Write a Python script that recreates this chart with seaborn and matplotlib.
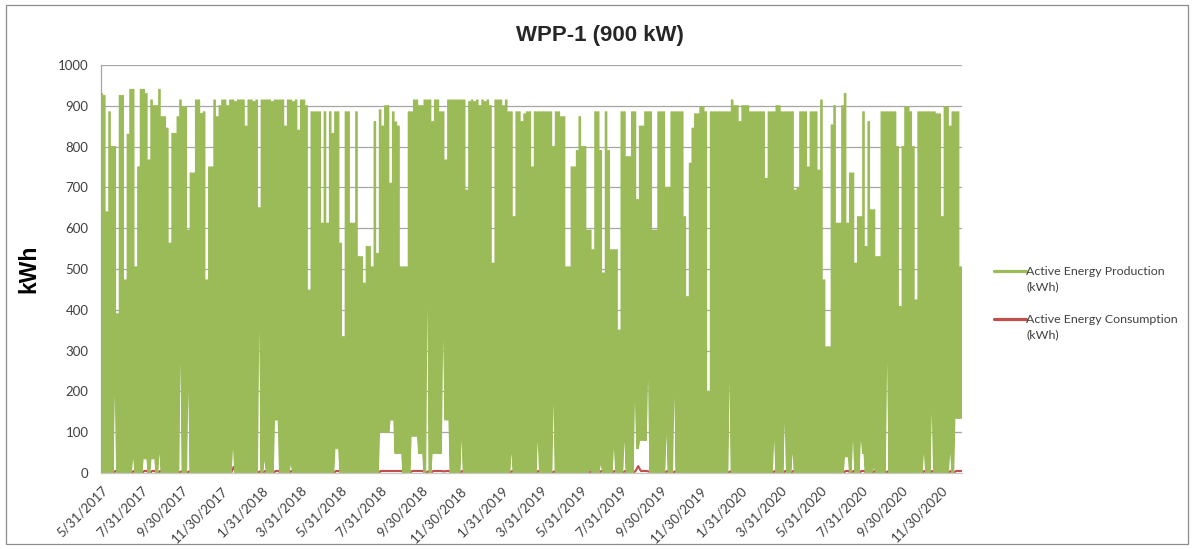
import numpy as np
import pandas as pd
import matplotlib
matplotlib.use("Agg")
import matplotlib.pyplot as plt
from matplotlib.patches import Rectangle
import seaborn as sns

# Hourly data summarised in 4-day bins starting 5/31/2017:
# per bin the lowest and highest hourly production (kWh)
start_date = "2017-05-31"
bin_days = 4

prod_high = [
    930, 925, 640, 885, 800, 800, 390, 925, 925, 473, 830, 940, 940, 505, 750, 940, 940, 930, 767, 914,
    900, 900, 940, 873, 873, 845, 563, 832, 832, 873, 914, 897, 897, 595, 735, 735, 914, 914, 881, 885,
    473, 750, 750, 914, 873, 900, 914, 914, 900, 914, 914, 910, 914, 914, 914, 850, 914, 914, 910, 914,
    650, 914, 914, 914, 914, 910, 914, 914, 914, 914, 850, 914, 914, 910, 914, 840, 914, 914, 900, 448,
    885, 885, 885, 885, 612, 885, 612, 885, 832, 885, 885, 563, 334, 885, 885, 612, 612, 885, 530, 530,
    465, 555, 555, 505, 861, 538, 890, 850, 900, 900, 710, 885, 860, 850, 505, 505, 505, 885, 885, 914,
    914, 900, 900, 914, 914, 914, 861, 914, 914, 885, 885, 767, 914, 914, 914, 914, 914, 914, 914, 693,
    910, 914, 910, 914, 900, 914, 910, 914, 900, 514, 914, 914, 914, 900, 914, 885, 885, 628, 885, 885,
    861, 880, 885, 885, 750, 885, 885, 885, 885, 885, 885, 885, 800, 885, 885, 873, 873, 505, 505, 750,
    750, 790, 873, 800, 800, 595, 595, 547, 885, 885, 790, 490, 885, 790, 547, 547, 547, 350, 885, 885,
    775, 775, 885, 885, 670, 850, 850, 885, 885, 885, 595, 595, 885, 885, 885, 700, 700, 885, 885, 885,
    885, 885, 628, 432, 759, 845, 880, 880, 897, 897, 885, 200, 885, 885, 885, 885, 885, 885, 885, 885,
    914, 900, 900, 861, 900, 900, 900, 885, 885, 885, 885, 885, 885, 722, 885, 885, 885, 900, 900, 885,
    885, 885, 885, 885, 693, 700, 885, 885, 885, 750, 885, 885, 885, 742, 914, 473, 309, 309, 853, 900,
    612, 612, 900, 930, 612, 735, 735, 514, 628, 628, 885, 555, 861, 645, 645, 530, 530, 885, 885, 885,
    885, 885, 885, 800, 408, 800, 897, 897, 885, 800, 424, 885, 885, 885, 885, 885, 885, 885, 880, 880,
    628, 897, 897, 850, 885, 885, 885, 505,
]

prod_low = [
    0, 0, 0, 0, 0, 190, 0, 0, 0, 0, 0, 0, 35, 0, 0, 0, 35, 35, 0, 35,
    35, 0, 48, 0, 0, 0, 0, 0, 0, 0, 270, 0, 0, 200, 0, 0, 0, 0, 0, 0,
    0, 0, 0, 0, 0, 0, 0, 0, 0, 0, 60, 0, 0, 0, 0, 0, 0, 0, 0, 0,
    350, 0, 30, 0, 0, 0, 130, 130, 0, 0, 0, 0, 20, 0, 0, 0, 0, 0, 0, 0,
    0, 0, 0, 0, 0, 0, 0, 0, 0, 60, 60, 0, 0, 0, 0, 0, 0, 0, 0, 0,
    0, 0, 0, 0, 0, 0, 100, 100, 100, 100, 130, 130, 48, 48, 48, 0, 0, 0, 90, 90,
    90, 48, 48, 0, 408, 0, 48, 48, 48, 48, 326, 130, 130, 0, 0, 0, 0, 80, 0, 0,
    0, 0, 0, 0, 0, 0, 0, 0, 0, 0, 0, 0, 0, 0, 0, 0, 48, 0, 0, 0,
    0, 0, 0, 0, 0, 0, 77, 0, 0, 0, 0, 0, 170, 0, 0, 0, 0, 0, 0, 0,
    0, 0, 0, 0, 0, 0, 8, 0, 0, 0, 20, 0, 0, 0, 0, 60, 0, 0, 0, 77,
    0, 0, 0, 175, 60, 80, 80, 80, 228, 0, 0, 0, 0, 0, 0, 93, 0, 0, 187, 0,
    0, 0, 0, 0, 0, 0, 0, 0, 0, 0, 0, 0, 0, 0, 0, 0, 0, 0, 0, 220,
    0, 0, 0, 0, 0, 0, 0, 0, 0, 0, 0, 0, 0, 0, 0, 0, 80, 0, 0, 0,
    120, 0, 0, 48, 0, 0, 0, 0, 0, 0, 0, 0, 0, 0, 0, 0, 0, 0, 0, 0,
    0, 0, 0, 40, 40, 0, 80, 0, 0, 80, 48, 0, 0, 0, 12, 0, 0, 0, 0, 270,
    0, 0, 0, 0, 0, 0, 0, 0, 0, 0, 0, 0, 0, 48, 0, 0, 146, 0, 0, 0,
    0, 0, 0, 48, 0, 134, 134, 134,
]

# consumption (kWh), same bins: only while the turbine stands still
consumption = [
    0, 0, 0, 0, 0, 5, 0, 0, 0, 0, 0, 0, 5, 0, 0, 0, 5, 5, 0, 5,
    5, 0, 5, 0, 0, 0, 0, 0, 0, 0, 4, 0, 0, 4, 0, 0, 0, 0, 0, 0,
    0, 0, 0, 0, 0, 0, 0, 0, 0, 0, 15, 0, 0, 0, 0, 0, 0, 0, 0, 0,
    4, 0, 5, 0, 0, 0, 5, 5, 0, 0, 0, 0, 5, 0, 0, 0, 0, 0, 0, 0,
    0, 0, 0, 0, 0, 0, 0, 0, 0, 5, 5, 0, 0, 0, 0, 0, 0, 0, 0, 0,
    0, 0, 0, 0, 0, 0, 5, 5, 5, 5, 5, 5, 5, 5, 5, 0, 0, 0, 5, 5,
    5, 5, 5, 0, 4, 0, 5, 5, 5, 5, 4, 5, 5, 0, 0, 0, 0, 5, 0, 0,
    0, 0, 0, 0, 0, 0, 0, 0, 0, 0, 0, 0, 0, 0, 0, 0, 5, 0, 0, 0,
    0, 0, 0, 0, 0, 0, 5, 0, 0, 0, 0, 0, 4, 0, 0, 0, 0, 0, 0, 0,
    0, 0, 0, 0, 0, 0, 4, 0, 0, 0, 5, 0, 0, 0, 0, 5, 0, 0, 0, 5,
    0, 0, 0, 5, 17, 5, 5, 5, 4, 0, 0, 0, 0, 0, 0, 5, 0, 0, 4, 0,
    0, 0, 0, 0, 0, 0, 0, 0, 0, 0, 0, 0, 0, 0, 0, 0, 0, 0, 0, 4,
    0, 0, 0, 0, 0, 0, 0, 0, 0, 0, 0, 0, 0, 0, 0, 0, 5, 0, 0, 0,
    5, 0, 0, 5, 0, 0, 0, 0, 0, 0, 0, 0, 0, 0, 0, 0, 0, 0, 0, 0,
    0, 0, 0, 5, 5, 0, 5, 0, 0, 5, 5, 0, 0, 0, 5, 0, 0, 0, 0, 4,
    0, 0, 0, 0, 0, 0, 0, 0, 0, 0, 0, 0, 0, 5, 0, 0, 5, 0, 0, 0,
    0, 0, 0, 5, 0, 5, 5, 5,
]

tick_dates = [
    "2017-05-31", "2017-07-31", "2017-09-30", "2017-11-30", "2018-01-31", "2018-03-31",
    "2018-05-31", "2018-07-31", "2018-09-30", "2018-11-30", "2019-01-31", "2019-03-31",
    "2019-05-31", "2019-07-31", "2019-09-30", "2019-11-30", "2020-01-31", "2020-03-31",
    "2020-05-31", "2020-07-31", "2020-09-30", "2020-11-30",
]
tick_labels = [
    "5/31/2017", "7/31/2017", "9/30/2017", "11/30/2017", "1/31/2018", "3/31/2018",
    "5/31/2018", "7/31/2018", "9/30/2018", "11/30/2018", "1/31/2019", "3/31/2019",
    "5/31/2019", "7/31/2019", "9/30/2019", "11/30/2019", "1/31/2020", "3/31/2020",
    "5/31/2020", "7/31/2020", "9/30/2020", "11/30/2020",
]
series_names = ["Active Energy Production", "Active Energy Consumption"]

green = "#9BBB59"
red = "#C0504D"
grid_col = "#A6A6A6"
text_col = "#404040"

# long table: each bin is traced up and down twice (like the dense hourly line)
bins = pd.date_range(start_date, periods=len(prod_high), freq=f"{bin_days}D")
half = pd.Timedelta(days=bin_days / 2)
prod_df = pd.DataFrame({
    "date": np.ravel(np.column_stack([bins, bins, bins + half, bins + half])),
    "kWh": np.ravel(np.column_stack([prod_low, prod_high, prod_high, prod_low])),
})
prod_df["date"] = pd.to_datetime(prod_df["date"])
cons_df = pd.DataFrame({"date": bins + half, "kWh": consumption})

sns.set_theme(style="white")
plt.rcParams["font.family"] = ["Lato", "DejaVu Sans"]

fig = plt.figure(figsize=(11.93, 5.49), dpi=100)
ax = fig.add_axes([101 / 1193, 1 - 473 / 549, 861 / 1193, 408 / 549])

# consumption underneath, production on top
sns.lineplot(data=cons_df, x="date", y="kWh", color=red, linewidth=1.5,
             sort=False, estimator=None, ax=ax, label=series_names[1])
sns.lineplot(data=prod_df, x="date", y="kWh", color=green, linewidth=0.95,
             sort=False, estimator=None, ax=ax, label=series_names[0])

ax.set_xlim(pd.Timestamp("2017-05-31"), pd.Timestamp("2021-01-01"))
ax.set_ylim(0, 1000)
ax.set_yticks(range(0, 1001, 100))
ax.yaxis.grid(True, color=grid_col, linewidth=0.9)
ax.xaxis.grid(False)
ax.set_axisbelow(True)

ax.set_xticks(pd.to_datetime(tick_dates))
ax.set_xticklabels(tick_labels, rotation=45, ha="right", va="top", rotation_mode="anchor")
ax.tick_params(axis="x", length=0, pad=8, labelsize=9.5, labelcolor=text_col)
ax.tick_params(axis="y", length=0, pad=9, labelsize=9.5, labelcolor=text_col)

for side in ["top", "right"]:
    ax.spines[side].set_visible(False)
ax.spines["left"].set_color(grid_col)
ax.spines["bottom"].set_color("#C8C8C8")
ax.spines["left"].set_linewidth(0.9)
ax.spines["bottom"].set_linewidth(0.9)

ax.set_xlabel("")
ax.set_ylabel("kWh", fontsize=16.5, fontweight="bold", color="black",
              family=["Liberation Sans", "DejaVu Sans"])
ax.yaxis.set_label_coords(-0.0703, 0.5)

fig.suptitle("WPP-1 (900 kW)", x=600 / 1193, y=1 - 36 / 549, va="center",
             fontsize=16, fontweight="bold", family=["Liberation Sans", "DejaVu Sans"])

# legend: handle beside the first text line, unit on a second line
handles, labels = ax.get_legend_handles_labels()
order = [labels.index(n) for n in series_names]
leg = ax.legend([handles[i] for i in order], series_names, loc="upper left",
                bbox_to_anchor=(994 / 1193, 1 - 266 / 549), bbox_transform=fig.transFigure,
                frameon=False, borderpad=0, borderaxespad=0, handlelength=2.55,
                handletextpad=0.05, labelspacing=3.0, fontsize=8.9)
for line in leg.get_lines():
    line.set_linewidth(2.3)
for t in leg.get_texts():
    t.set_color(text_col)

fig.canvas.draw()
inv = fig.transFigure.inverted()
for t in leg.get_texts():
    bb = t.get_window_extent()
    x0, y0 = inv.transform((bb.x0, bb.y0))
    fig.text(x0, y0 - 4 / 549, "(kWh)", ha="left", va="top",
             fontsize=8.9, color=text_col)

fig.patches.append(Rectangle((6 / 1193, 1 - 544 / 549), 1182 / 1193, 539 / 549,
                             transform=fig.transFigure, fill=False,
                             edgecolor="#8C8C8C", linewidth=0.9))

fig.savefig("out.png", dpi=100, facecolor="white")
